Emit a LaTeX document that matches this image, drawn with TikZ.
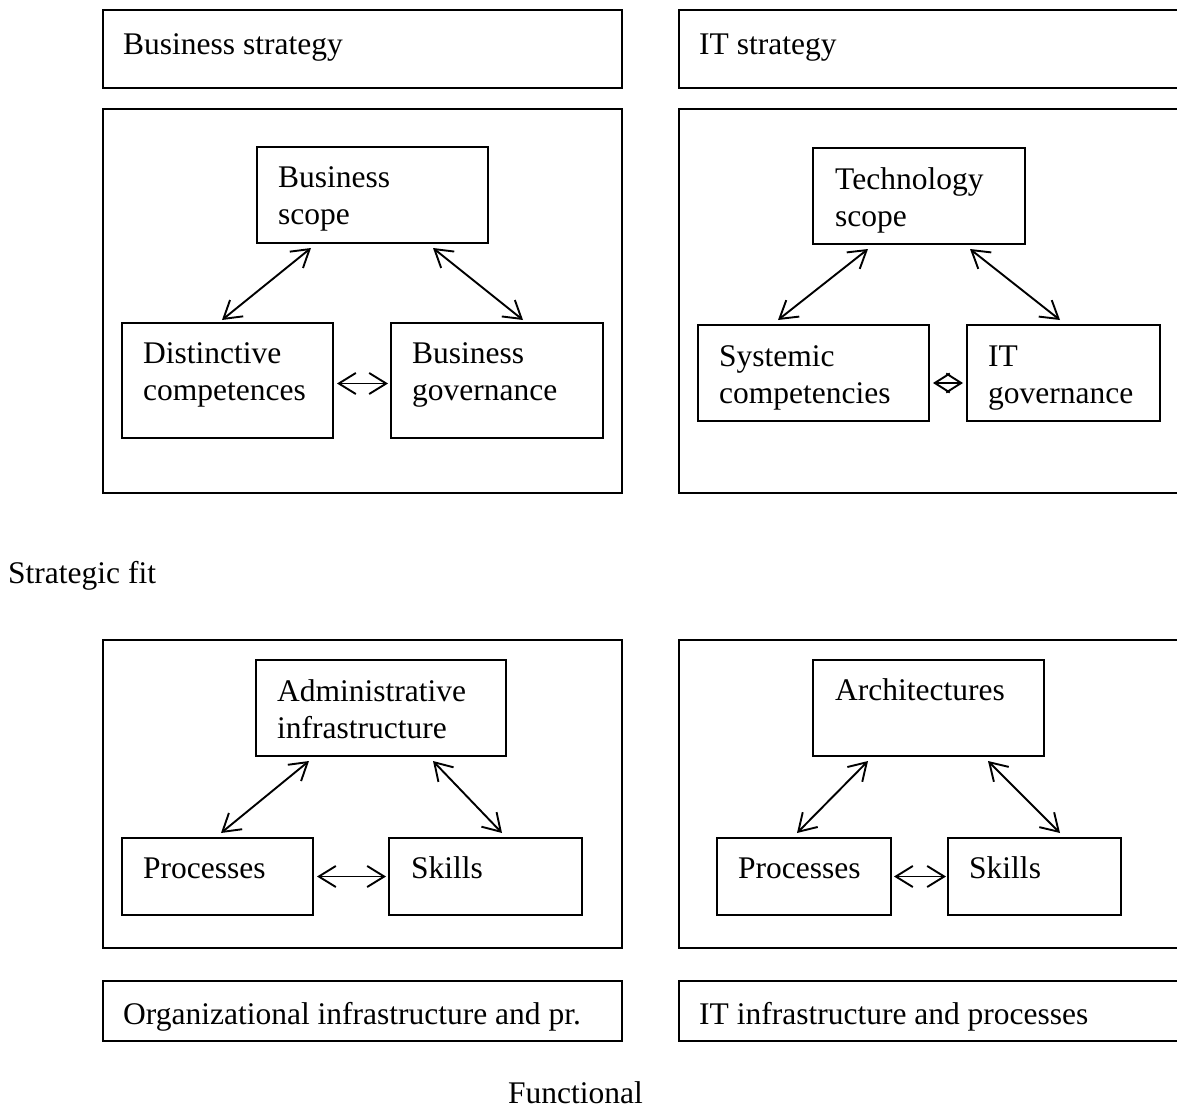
\documentclass[tikz,border=0pt]{standalone}
\usepackage{fontspec}
\setmainfont{Liberation Serif}
\usetikzlibrary{arrows.meta,calc}

% multi-line label whose base is the first line's baseline
\newcommand\lines[1]{\begin{tabular}[t]{@{}l@{}}#1\end{tabular}}
% box given by its top-left and bottom-right corners
\newcommand\boxnode[5]{\node[box, minimum width={#4-#2}, minimum height={#5-#3}] (#1) at (#2,#3) {};}

\begin{document}
\begin{tikzpicture}[x=1pt, y=-1pt,
  box/.style={draw, line width=1.8pt, anchor=north west, inner sep=0pt, outer sep=0pt},
  lbl/.style={anchor=base west, inner sep=0pt, font=\fontsize{31.5}{37}\selectfont},
  link/.style={line width=1.9pt, {Straight Barb[length=17pt,width=21pt]}-{Straight Barb[length=17pt,width=21pt]}},
  tight/.style={line width=1.9pt, {Straight Barb[length=15pt,width=19pt]}-{Straight Barb[length=15pt,width=19pt]}}
]
\clip (0,0) rectangle (1177,1113);
\fill[white] (0,0) rectangle (1177,1113);

% ---- strategy level: business side ----
\boxnode{bstrat}{103}{10}{622}{88}
\boxnode{bouter}{103}{109}{622}{493}
\boxnode{bscope}{257}{147}{488}{243}
\boxnode{dcomp}{122}{323}{333}{438}
\boxnode{bgov}{391}{323}{603}{438}
\node[lbl] (bstrat-t) at ($(bstrat.north west)+(20,45)$) {Business strategy};
\node[lbl] (bscope-t) at ($(bscope.north west)+(21,40)$) {\lines{Business\\scope}};
\node[lbl] (dcomp-t) at ($(dcomp.north west)+(21,40)$) {\lines{Distinctive\\competences}};
\node[lbl] (bgov-t) at ($(bgov.north west)+(21,40)$) {\lines{Business\\governance}};
\draw[link] ($(bscope.south west)+(54,5)$) -- ($(dcomp.north west)+(100,-3)$);
\draw[link] ($(bscope.south east)+(-55,5)$) -- ($(bgov.north west)+(132,-3)$);
\draw[link] ($(dcomp.east)+(4,3)$) -- ($(bgov.west)+(-3,3)$);

% ---- strategy level: IT side ----
\boxnode{itstrat}{679}{10}{1190}{88}
\boxnode{itouter}{679}{109}{1190}{493}
\boxnode{tscope}{813}{148}{1025}{244}
\boxnode{scomp}{698}{325}{929}{421}
\boxnode{itgov}{967}{325}{1160}{421}
\node[lbl] (itstrat-t) at ($(itstrat.north west)+(20,45)$) {IT strategy};
\node[lbl] (tscope-t) at ($(tscope.north west)+(22,41)$) {\lines{Technology\\scope}};
\node[lbl] (scomp-t) at ($(scomp.north west)+(21,41)$) {\lines{Systemic\\competencies}};
\node[lbl] (itgov-t) at ($(itgov.north west)+(21,41)$) {\lines{IT\\governance}};
\draw[link] ($(tscope.south west)+(55,5)$) -- ($(scomp.north west)+(80,-5)$);
\draw[link] ($(tscope.south east)+(-55,5)$) -- ($(itgov.north west)+(93,-5)$);
\draw[tight] ($(scomp.east)+(4,10)$) -- ($(itgov.west)+(-4,10)$);

\node[lbl] (fit) at (8,583) {Strategic fit};

% ---- infrastructure level: organizational side ----
\boxnode{oouter}{103}{640}{622}{948}
\boxnode{admin}{256}{660}{506}{756}
\boxnode{proc1}{122}{838}{313}{915}
\boxnode{skill1}{389}{838}{582}{915}
\boxnode{orginf}{103}{981}{622}{1041}
\node[lbl] (admin-t) at ($(admin.north west)+(21,41)$) {\lines{Administrative\\infrastructure}};
\node[lbl] (proc1-t) at ($(proc1.north west)+(21,40)$) {Processes};
\node[lbl] (skill1-t) at ($(skill1.north west)+(22,40)$) {Skills};
\node[lbl] (orginf-t) at ($(orginf.north west)+(20,43)$) {Organizational infrastructure and pr.};
\draw[link] ($(admin.south west)+(53,5)$) -- ($(proc1.north west)+(99,-5)$);
\draw[link] ($(admin.south east)+(-73,5)$) -- ($(skill1.north west)+(113,-5)$);
\draw[link] ($(proc1.east)+(4,0)$) -- ($(skill1.west)+(-3,0)$);

% ---- infrastructure level: IT side ----
\boxnode{iouter}{679}{640}{1190}{948}
\boxnode{arch}{813}{660}{1044}{756}
\boxnode{proc2}{717}{838}{891}{915}
\boxnode{skill2}{948}{838}{1121}{915}
\boxnode{itinf}{679}{981}{1190}{1041}
\node[lbl] (arch-t) at ($(arch.north west)+(22,40)$) {Architectures};
\node[lbl] (proc2-t) at ($(proc2.north west)+(21,40)$) {Processes};
\node[lbl] (skill2-t) at ($(skill2.north west)+(21,40)$) {Skills};
\node[lbl] (itinf-t) at ($(itinf.north west)+(20,43)$) {IT infrastructure and processes};
\draw[link] ($(arch.south west)+(55,5)$) -- ($(proc2.north west)+(80,-5)$);
\draw[link] ($(arch.south east)+(-56,5)$) -- ($(skill2.north west)+(112,-5)$);
\draw[link] ($(proc2.east)+(3,0)$) -- ($(skill2.west)+(-2,0)$);

\node[lbl] (func) at (508,1103) {Functional};
\end{tikzpicture}
\end{document}
